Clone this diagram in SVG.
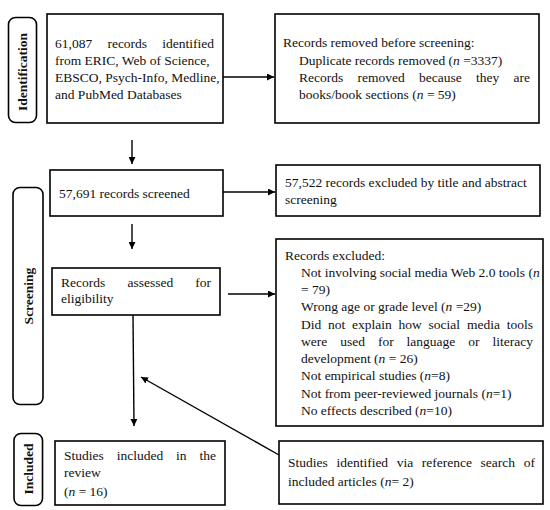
<svg xmlns="http://www.w3.org/2000/svg" width="550" height="510" viewBox="0 0 550 510">
<style>
.b{fill:#fff;stroke:#000;stroke-width:1.6}
.p{fill:#fff;stroke:#000;stroke-width:1.6}
text{font-family:"Liberation Serif","Times New Roman",serif;font-size:13.5px;fill:#111}
.v{font-weight:bold;font-size:13.5px;text-anchor:middle}
.i{font-style:italic}
.c{stroke:#000;stroke-width:1.4;fill:none}
</style>
<defs>
<marker id="ah" viewBox="0 0 10 10" refX="10" refY="5" markerWidth="7" markerHeight="7" markerUnits="userSpaceOnUse" orient="auto">
<path d="M0,0 L10,5 L0,10 z" fill="#000"/>
</marker>
</defs>
<rect width="550" height="510" fill="#fff"/>

<g id="phase-identification">
<rect class="p" x="8.5" y="17.5" width="28" height="105" rx="7"/>
<text class="v" transform="translate(27,72) rotate(-90)">Identification</text>
</g>
<g id="phase-screening">
<rect class="p" x="13" y="187.5" width="30" height="217" rx="7"/>
<text class="v" transform="translate(33,296) rotate(-90)">Screening</text>
</g>
<g id="phase-included">
<rect class="p" x="14" y="433.5" width="28.5" height="72" rx="7"/>
<text class="v" transform="translate(33,469) rotate(-90)">Included</text>
</g>

<g id="records-identified">
<rect class="b" x="47" y="14" width="176" height="109"/>
<text y="48"><tspan x="55">61,087</tspan><tspan x="107.4">records</tspan><tspan x="162.3">identified</tspan></text>
<text x="55" y="65">from ERIC, Web of Science,</text>
<text x="55" y="82">EBSCO, Psych-Info, Medline,</text>
<text x="55" y="99">and PubMed Databases</text>
</g>

<g id="records-removed">
<rect class="b" x="275" y="14" width="264" height="109"/>
<text x="283" y="47">Records removed before screening:</text>
<text x="299" y="65">Duplicate records removed (<tspan class="i">n</tspan> =3337)</text>
<text y="82"><tspan x="299">Records</tspan><tspan x="357.5">removed</tspan><tspan x="419">because</tspan><tspan x="476">they</tspan><tspan x="513.5">are</tspan></text>
<text x="299" y="99">books/book sections (<tspan class="i">n</tspan> = 59)</text>
</g>

<g id="records-screened">
<rect class="b" x="50" y="170" width="173" height="46"/>
<text x="59" y="198">57,691 records screened</text>
</g>

<g id="records-excluded-title">
<rect class="b" x="276" y="165" width="264" height="51"/>
<text x="285" y="187">57,522 records excluded by title and abstract</text>
<text x="285" y="204">screening</text>
</g>

<g id="records-assessed">
<rect class="b" x="52" y="268" width="168" height="47"/>
<text y="287"><tspan x="61">Records</tspan><tspan x="127.4">assessed</tspan><tspan x="195.3">for</tspan></text>
<text x="61" y="303">eligibility</text>
</g>

<g id="records-excluded">
<rect class="b" x="276" y="239" width="267" height="187"/>
<text x="285" y="260">Records excluded:</text>
<text x="301" y="277">Not involving social media Web 2.0 tools (<tspan class="i">n</tspan></text>
<text x="301" y="294">= 79)</text>
<text x="301" y="311">Wrong age or grade level (<tspan class="i">n</tspan> =29)</text>
<text y="329"><tspan x="301">Did</tspan><tspan x="328">not</tspan><tspan x="352">explain</tspan><tspan x="398.6">how</tspan><tspan x="428.6">social</tspan><tspan x="466.9">media</tspan><tspan x="506.7">tools</tspan></text>
<text y="346"><tspan x="301">were</tspan><tspan x="340.2">used</tspan><tspan x="377.9">for</tspan><tspan x="406.6">language</tspan><tspan x="468.3">or</tspan><tspan x="492.5">literacy</tspan></text>
<text x="301" y="363">development (<tspan class="i">n</tspan> = 26)</text>
<text x="301" y="380">Not empirical studies (<tspan class="i">n</tspan>=8)</text>
<text x="301" y="398">Not from peer-reviewed journals (<tspan class="i">n</tspan>=1)</text>
<text x="301" y="415">No effects described (<tspan class="i">n</tspan>=10)</text>
</g>

<g id="studies-included">
<rect class="b" x="55" y="441" width="170" height="64"/>
<text y="460"><tspan x="64">Studies</tspan><tspan x="116.7">included</tspan><tspan x="176.1">in</tspan><tspan x="199.5">the</tspan></text>
<text x="64" y="477">review</text>
<text x="64" y="496">(<tspan class="i">n</tspan> = 16)</text>
</g>

<g id="reference-search">
<rect class="b" x="279" y="441" width="264" height="63"/>
<text y="467"><tspan x="288">Studies</tspan><tspan x="336.4">identified</tspan><tspan x="396.7">via</tspan><tspan x="421.8">reference</tspan><tspan x="480.6">search</tspan><tspan x="523.7">of</tspan></text>
<text x="288" y="486">included articles (<tspan class="i">n</tspan>= 2)</text>
</g>

<g id="connectors">
<line class="c" x1="223" y1="77" x2="274" y2="77" marker-end="url(#ah)"/>
<line class="c" x1="132" y1="140" x2="132" y2="164" marker-end="url(#ah)"/>
<line class="c" x1="223" y1="192" x2="275" y2="192" marker-end="url(#ah)"/>
<line class="c" x1="132" y1="224" x2="132" y2="249" marker-end="url(#ah)"/>
<line class="c" x1="228" y1="294" x2="275" y2="294" marker-end="url(#ah)"/>
<line class="c" x1="133" y1="315" x2="134" y2="426" marker-end="url(#ah)"/>
<line class="c" x1="279" y1="455" x2="141" y2="377" marker-end="url(#ah)"/>
</g>
</svg>
